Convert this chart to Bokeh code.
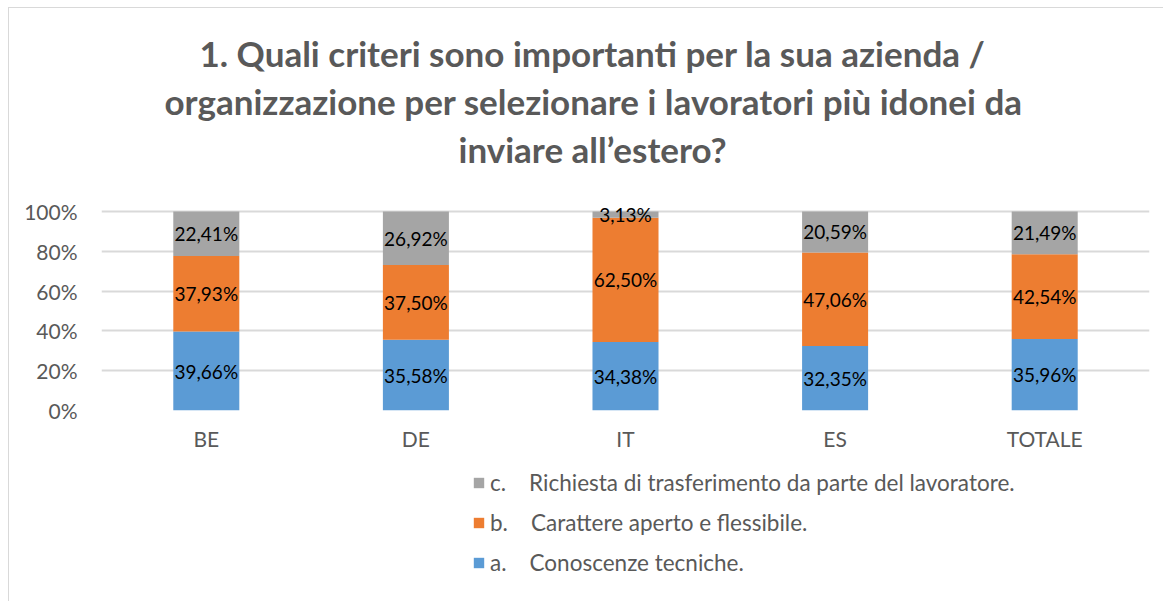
from bokeh.plotting import figure
from bokeh.layouts import column
from bokeh.models import ColumnDataSource, Legend, LegendItem, Title, NumeralTickFormatter, FixedTicker, Range1d
from bokeh.core.properties import value
from bokeh.embed import file_html
from bokeh.resources import INLINE

categories = ["BE", "DE", "IT", "ES", "TOTALE"]
a_tecniche = [39.66, 35.58, 34.38, 32.35, 35.96]
b_carattere = [37.93, 37.50, 62.50, 47.06, 42.54]
c_richiesta = [22.41, 26.92, 3.13, 20.59, 21.49]

series_keys = ["a", "b", "c"]
NB = "\u00a0" * 4
series_labels = [
    "a." + NB + "Conoscenze tecniche.",
    "b." + NB + "Carattere aperto e flessibile.",
    "c." + NB + "Richiesta di trasferimento da parte del lavoratore.",
]
colors = ["#5B9BD5", "#ED7D31", "#A5A5A5"]
title_lines = [
    "1. Quali criteri sono importanti per la sua azienda /",
    "organizzazione per selezionare i lavoratori più idonei da",
    "inviare all\u2019estero?",
]
title_offsets = [98, 63, 357]
yticks = [0, 0.2, 0.4, 0.6, 0.8, 1.0]

FONT = "Lato"
GRAY = "#595959"
BORDER = "1px solid #D9D9D9"

data = {
    "cat": categories,
    "a": [v / 100 for v in a_tecniche],
    "b": [v / 100 for v in b_carattere],
    "c": [v / 100 for v in c_richiesta],
}
source = ColumnDataSource(data)

p = figure(
    x_range=categories, y_range=Range1d(0, 1.04),
    width=1155, height=452,
    output_backend="svg", toolbar_location=None,
    min_border_left=92, min_border_right=15,
    min_border_bottom=50, min_border_top=195,
)
p.styles = {"border-top": BORDER, "border-left": BORDER}
p.outline_line_color = None
p.background_fill_color = "white"
p.border_fill_color = "white"

renderers = p.vbar_stack(series_keys, x="cat", width=0.315, color=colors,
                         line_color=None, source=source)

# data labels
a_v = data["a"]; b_v = data["b"]; c_v = data["c"]
lab_x, lab_y, lab_t = [], [], []
for i, cat in enumerate(categories):
    bottoms = [0, a_v[i], a_v[i] + b_v[i]]
    vals = [a_tecniche[i], b_carattere[i], c_richiesta[i]]
    fr = [a_v[i], b_v[i], c_v[i]]
    for k in range(3):
        lab_x.append(cat)
        lab_y.append(bottoms[k] + fr[k] / 2)
        lab_t.append(f"{vals[k]:.2f}%".replace(".", ","))
p.text(x=lab_x, y=lab_y, text=lab_t, text_align="center", text_baseline="middle",
       text_font=value(FONT), text_font_size="19px", text_color="#000000")

# axes
p.yaxis.ticker = FixedTicker(ticks=yticks)
p.yaxis.formatter = NumeralTickFormatter(format="0%")
p.yaxis.axis_line_color = None
p.yaxis.major_tick_line_color = None
p.yaxis.minor_tick_line_color = None
p.yaxis.major_label_text_font = FONT
p.yaxis.major_label_text_font_size = "21px"
p.yaxis.major_label_text_color = GRAY
p.yaxis.major_label_standoff = 18

p.xaxis.axis_line_color = None
p.xaxis.major_tick_line_color = None
p.xaxis.major_label_text_font = FONT
p.xaxis.major_label_text_font_size = "21px"
p.xaxis.major_label_text_color = GRAY
p.xaxis.major_label_standoff = 9

p.xgrid.grid_line_color = None
p.ygrid.grid_line_color = "#D9D9D9"
p.ygrid.grid_line_width = 2
p.ygrid.ticker = FixedTicker(ticks=yticks)
p.x_range.range_padding = 0

# titles (added from plot outward); first a spacer
p.add_layout(Title(text="\u00a0", text_font_size="26px", standoff=0), "above")
for line, off in zip(reversed(title_lines), reversed(title_offsets)):
    t = Title(text=line, align="left", text_font=FONT, text_font_size="35px",
              text_font_style="bold", text_color=GRAY, standoff=4, offset=off)
    p.add_layout(t, "above")

# legend figure below the chart
leg = figure(width=1155, height=142, output_backend="svg", toolbar_location=None,
             x_axis_type=None, y_axis_type=None,
             x_range=Range1d(0, 1), y_range=Range1d(0, 1),
             min_border_left=0, min_border_right=0, min_border_top=0, min_border_bottom=0)
leg.styles = {"border-left": BORDER}
leg.outline_line_color = None
leg.grid.visible = False
dummy = [leg.vbar(x=[-5], top=[0], width=0.1, color=c, line_color=None) for c in colors]
items = [LegendItem(label=series_labels[k], renderers=[dummy[k]]) for k in (2, 1, 0)]
legend = Legend(items=items, location=(371, 25), orientation="vertical",
                label_text_font=FONT, label_text_font_size="22.5px", label_text_color=GRAY,
                glyph_width=13, glyph_height=13, label_height=27, spacing=13,
                label_standoff=5, padding=6, margin=0,
                border_line_color=None, background_fill_alpha=0)
leg.add_layout(legend, "center")

layout = column(p, leg, spacing=0, styles={"margin-left": "8px", "margin-top": "7px"})

open("out.html", "w").write(file_html(layout, INLINE))
